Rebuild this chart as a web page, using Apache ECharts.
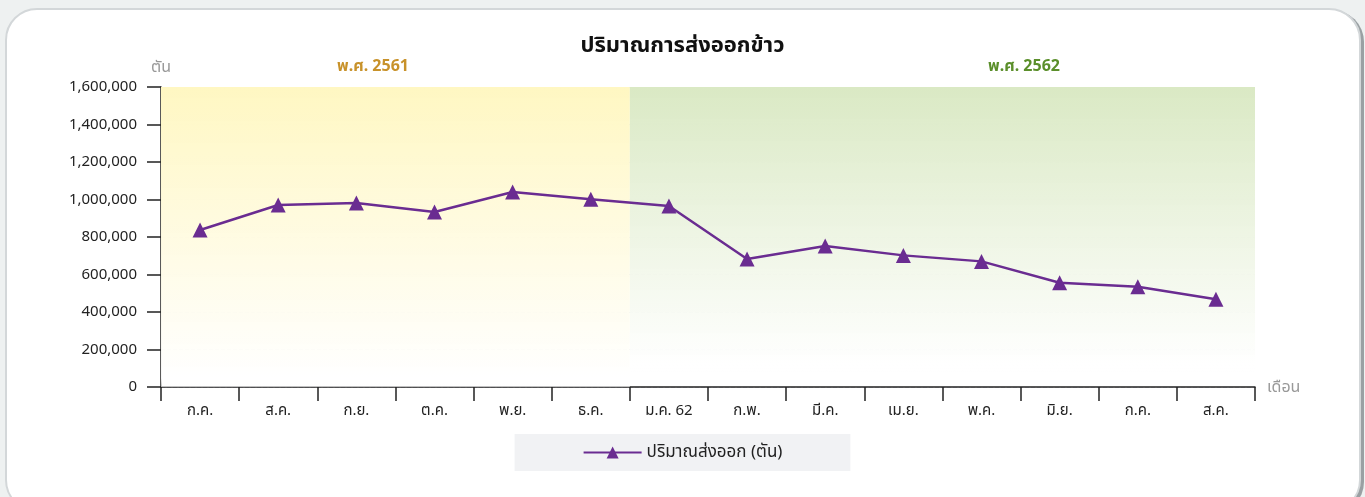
<!DOCTYPE html>
<html>
<head>
<meta charset="utf-8">
<script src="https://cdn.jsdelivr.net/npm/echarts@6/dist/echarts.min.js"></script>
<style>
  html, body { margin: 0; padding: 0; background: #eef1f1; }
  #wrap { position: absolute; left: 5px; top: 8px; width: 1352px; height: 500px; background: #fff;
          border-radius: 32px; border: 2px solid #d3d7d9; box-shadow: 3px 2px 0 #9aa0a3; }
  #chart { position: absolute; left: 0; top: 0; width: 1365px; height: 497px; }
</style>
</head>
<body>
<div id="wrap"></div>
<div id="chart"></div>
<script>
const categories = ['ก.ค.', 'ส.ค.', 'ก.ย.', 'ต.ค.', 'พ.ย.', 'ธ.ค.', 'ม.ค. 62', 'ก.พ.', 'มี.ค.', 'เม.ย.', 'พ.ค.', 'มิ.ย.', 'ก.ค.', 'ส.ค.'];
const exportVolume = [837000, 971000, 981000, 933000, 1040000, 1001000, 965000, 683000, 752000, 702000, 670000, 556000, 535000, 468000];
const seriesName = 'ปริมาณส่งออก (ตัน)';
const titleText = 'ปริมาณการส่งออกข้าว';
const yearLabels = ['พ.ศ. 2561', 'พ.ศ. 2562'];
// month counts in each year band (2561: ก.ค.–ธ.ค., 2562: ม.ค.–ส.ค.)
const yearMonthCounts = [6, 8];

const FONT = '"Noto Sans", "Noto Sans Thai", sans-serif';
const chart = echarts.init(document.getElementById('chart'), null, { renderer: 'canvas' });

function grad(top, stopAt) {
  return new echarts.graphic.LinearGradient(0, 0, 0, 1, [
    { offset: 0, color: top },
    { offset: stopAt, color: 'rgba(255,255,255,0.95)' },
    { offset: 1, color: 'rgba(255,255,255,0.6)' }
  ]);
}

const bandStart = 0, bandMid = yearMonthCounts[0], bandEnd = yearMonthCounts[0] + yearMonthCounts[1];

chart.setOption({
  backgroundColor: 'transparent',
  animation: false,
  textStyle: { fontFamily: FONT },
  title: {
    text: titleText, left: 'center', top: 30,
    textStyle: { fontFamily: FONT, fontSize: 22, fontWeight: 'bold', color: '#111' }
  },
  legend: {
    bottom: 26, left: 'center', padding: [10, 68, 10, 68],
    backgroundColor: '#f1f2f4',
    itemWidth: 58, itemHeight: 15, itemGap: 10,
    textStyle: { fontFamily: FONT, fontSize: 17, color: '#222' },
    data: [seriesName]
  },
  grid: { left: 161, right: 110, top: 87, bottom: 110, containLabel: false },
  xAxis: [{
    type: 'category', data: categories, boundaryGap: true,
    name: 'เดือน', nameLocation: 'end', nameGap: 12,
    nameTextStyle: { color: '#999', fontSize: 16, fontFamily: FONT, verticalAlign: 'middle' },
    axisLine: { lineStyle: { color: '#222', width: 1.5 } },
    axisTick: { show: true, length: 14, lineStyle: { color: '#222', width: 1.5 } },
    axisLabel: { color: '#222', fontSize: 15, margin: 16, fontFamily: FONT },
    splitLine: { show: false }
  }, {
    type: 'value', min: bandStart, max: bandEnd, show: false, position: 'bottom'
  }],
  yAxis: {
    type: 'value', min: 0, max: 1600000, interval: 200000,
    name: 'ตัน', nameLocation: 'end', nameGap: 12,
    nameTextStyle: { color: '#999', fontSize: 16, fontFamily: FONT, align: 'center' },
    axisLine: { show: true, lineStyle: { color: '#222', width: 1.5 } },
    axisTick: { show: true, length: 14, lineStyle: { color: '#222', width: 1.5 } },
    axisLabel: { color: '#222', fontSize: 15, margin: 24, fontFamily: FONT,
      formatter: v => v.toLocaleString('en-US') },
    splitLine: { show: true, lineStyle: { color: '#d9d9e6', type: 'dashed', width: 1 } }
  },
  graphic: [
    { type: 'text', left: 337, top: 58, style: { text: yearLabels[0], fill: '#c8922a', font: 'bold 16px ' + FONT } },
    { type: 'text', left: 988, top: 58, style: { text: yearLabels[1], fill: '#5b8f2b', font: 'bold 16px ' + FONT } }
  ],
  series: [{
    name: 'bands', type: 'line', xAxisIndex: 1, data: [], silent: true, z: 0,
    markArea: {
      silent: true,
      data: [
        [{ xAxis: bandStart, yAxis: 1600000, itemStyle: { color: grad('#fff7c2', 0.97) } }, { xAxis: bandMid, yAxis: 0 }],
        [{ xAxis: bandMid, yAxis: 1600000, itemStyle: { color: grad('#dae9c4', 0.97) } }, { xAxis: bandEnd, yAxis: 70000 }]
      ]
    }
  }, {
    name: seriesName, type: 'line', data: exportVolume,
    symbol: 'triangle', symbolSize: 15,
    lineStyle: { color: '#6a2c91', width: 2.5 },
    itemStyle: { color: '#6a2c91' },
    z: 5
  }]
});
</script>
</body>
</html>
